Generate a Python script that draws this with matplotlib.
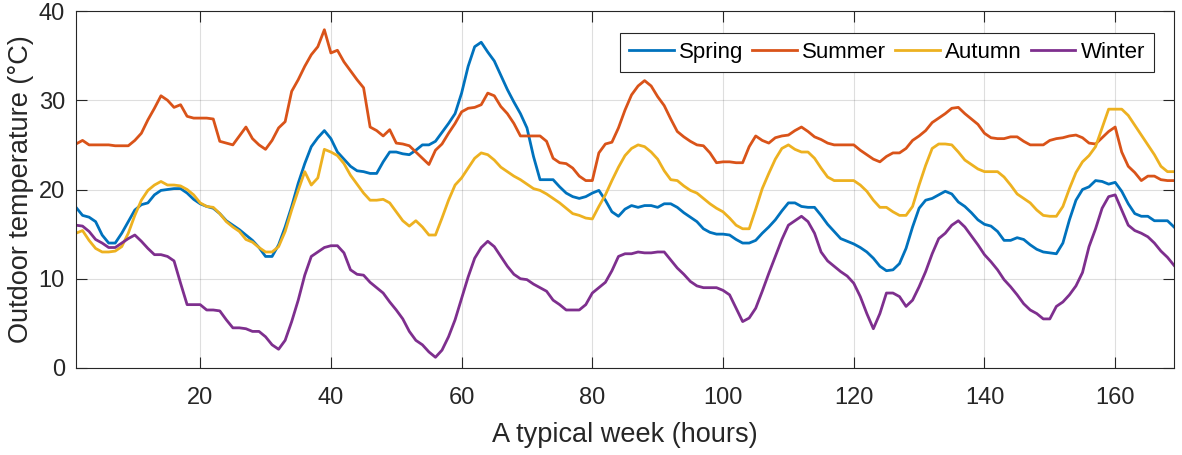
import numpy as np
import matplotlib
matplotlib.use("Agg")
import matplotlib.pyplot as plt

plt.rcParams["font.family"] = ["Liberation Sans", "DejaVu Sans"]

hours = np.arange(1, 170)

spring = [18.0, 17.1, 16.9, 16.4, 14.9, 14.0, 14.0, 15.1, 16.4, 17.7,
          18.3, 18.5, 19.4, 19.9, 20.0, 20.1, 20.1, 19.6, 18.9, 18.4,
          18.1, 17.9, 17.3, 16.5, 16.0, 15.5, 14.9, 14.3, 13.5, 12.5,
          12.5, 13.8, 15.8, 18.1, 20.7, 22.9, 24.8, 25.8, 26.6, 25.7,
          24.2, 23.4, 22.6, 22.1, 22.0, 21.8, 21.8, 23.1, 24.2, 24.2,
          24.0, 23.9, 24.4, 25.0, 25.0, 25.4, 26.4, 27.4, 28.5, 30.8,
          33.8, 36.0, 36.5, 35.4, 34.4, 32.8, 31.2, 29.8, 28.5, 26.9,
          23.7, 21.1, 21.1, 21.1, 20.3, 19.6, 19.2, 19.0, 19.2, 19.6,
          19.9, 18.8, 17.5, 17.0, 17.8, 18.2, 18.0, 18.2, 18.2, 18.0,
          18.4, 18.4, 18.0, 17.4, 16.9, 16.4, 15.6, 15.2, 15.0, 15.0,
          14.9, 14.4, 14.0, 14.0, 14.3, 15.1, 15.8, 16.6, 17.6, 18.5,
          18.5, 18.1, 18.0, 18.0, 17.1, 16.1, 15.3, 14.5, 14.2, 13.9,
          13.5, 13.0, 12.3, 11.4, 10.9, 11.0, 11.7, 13.4, 15.8, 17.9,
          18.8, 19.0, 19.4, 19.8, 19.5, 18.6, 18.1, 17.4, 16.6, 16.1,
          15.9, 15.3, 14.3, 14.3, 14.6, 14.4, 13.8, 13.3, 13.0, 12.9,
          12.8, 14.0, 16.6, 18.8, 20.0, 20.3, 21.0, 20.9, 20.6, 20.8,
          19.8, 18.4, 17.3, 17.0, 17.0, 16.5, 16.5, 16.5, 15.8]

summer = [25.1, 25.5, 25.0, 25.0, 25.0, 25.0, 24.9, 24.9, 24.9, 25.5,
          26.3, 27.8, 29.1, 30.5, 30.0, 29.2, 29.5, 28.2, 28.0, 28.0,
          28.0, 27.9, 25.4, 25.2, 25.0, 26.0, 27.0, 25.7, 25.0, 24.5,
          25.5, 26.9, 27.6, 31.0, 32.3, 33.8, 35.1, 36.0, 37.9, 35.3,
          35.6, 34.3, 33.3, 32.3, 31.4, 27.0, 26.6, 26.0, 26.7, 25.2,
          25.1, 24.9, 24.2, 23.5, 22.8, 24.4, 25.1, 26.3, 27.4, 28.7,
          29.1, 29.2, 29.5, 30.8, 30.5, 29.3, 28.5, 27.4, 26.0, 26.0,
          26.0, 26.0, 25.4, 23.5, 23.0, 22.9, 22.4, 21.5, 21.0, 21.0,
          24.1, 25.1, 25.3, 26.9, 28.9, 30.6, 31.6, 32.2, 31.6, 30.4,
          29.4, 27.9, 26.5, 25.9, 25.4, 25.0, 24.9, 24.1, 23.0, 23.1,
          23.1, 23.0, 23.0, 24.8, 26.0, 25.5, 25.2, 25.8, 26.0, 26.1,
          26.6, 27.0, 26.5, 25.9, 25.6, 25.2, 25.0, 25.0, 25.0, 25.0,
          24.4, 23.9, 23.4, 23.1, 23.7, 24.1, 24.1, 24.6, 25.5, 26.0,
          26.6, 27.5, 28.0, 28.5, 29.1, 29.2, 28.5, 27.9, 27.3, 26.3,
          25.8, 25.7, 25.7, 25.9, 25.9, 25.4, 25.0, 25.0, 25.0, 25.5,
          25.7, 25.8, 26.0, 26.1, 25.8, 25.2, 25.1, 25.8, 26.5, 27.0,
          24.2, 22.6, 21.9, 21.0, 21.5, 21.5, 21.1, 21.0, 21.0]

autumn = [15.1, 15.4, 14.3, 13.4, 13.0, 13.0, 13.1, 13.6, 15.1, 17.1,
          18.8, 19.9, 20.5, 20.9, 20.5, 20.5, 20.4, 20.0, 19.4, 18.5,
          18.1, 18.0, 17.3, 16.4, 15.8, 15.3, 14.4, 14.1, 13.5, 13.0,
          13.0, 13.6, 15.3, 17.7, 19.9, 22.0, 20.5, 21.3, 24.5, 24.2,
          23.8, 22.9, 21.6, 20.6, 19.6, 18.8, 18.8, 18.9, 18.5, 17.5,
          16.5, 15.9, 16.5, 15.8, 14.9, 14.9, 16.8, 18.8, 20.5, 21.3,
          22.4, 23.5, 24.1, 23.9, 23.3, 22.5, 22.0, 21.5, 21.1, 20.6,
          20.1, 19.9, 19.5, 19.0, 18.5, 17.9, 17.3, 17.1, 16.8, 16.7,
          18.1, 19.4, 21.0, 22.5, 23.8, 24.6, 25.0, 24.8, 24.2, 23.4,
          22.1, 21.1, 21.0, 20.4, 19.9, 19.6, 19.0, 18.4, 17.9, 17.5,
          16.8, 16.0, 15.6, 15.6, 17.8, 20.1, 21.8, 23.4, 24.6, 25.0,
          24.5, 24.2, 24.2, 23.5, 22.4, 21.4, 21.0, 21.0, 21.0, 21.0,
          20.5, 19.8, 18.8, 18.0, 18.0, 17.5, 17.1, 17.1, 18.1, 20.5,
          22.7, 24.6, 25.1, 25.1, 25.0, 24.2, 23.3, 22.8, 22.3, 22.0,
          22.0, 22.0, 21.4, 20.5, 19.5, 19.0, 18.5, 17.7, 17.1, 17.0,
          17.0, 18.1, 20.1, 21.9, 23.1, 23.8, 24.8, 26.9, 29.0, 29.0,
          29.0, 28.3, 27.2, 26.1, 25.0, 23.9, 22.6, 22.0, 22.0]

winter = [16.0, 15.9, 15.3, 14.4, 14.0, 13.5, 13.5, 14.0, 14.5, 14.9,
          14.2, 13.4, 12.7, 12.7, 12.5, 12.0, 9.5, 7.1, 7.1, 7.1,
          6.5, 6.5, 6.4, 5.4, 4.5, 4.5, 4.4, 4.1, 4.1, 3.5,
          2.6, 2.1, 3.1, 5.2, 7.6, 10.4, 12.5, 13.0, 13.5, 13.7,
          13.7, 12.9, 11.0, 10.5, 10.4, 9.6, 9.0, 8.4, 7.4, 6.5,
          5.5, 4.1, 3.1, 2.6, 1.8, 1.2, 2.0, 3.5, 5.4, 7.8,
          10.2, 12.3, 13.5, 14.2, 13.6, 12.5, 11.4, 10.5, 10.0, 9.9,
          9.4, 9.0, 8.6, 7.6, 7.1, 6.5, 6.5, 6.5, 7.1, 8.4,
          9.0, 9.6, 10.9, 12.5, 12.8, 12.8, 13.0, 12.9, 12.9, 13.0,
          13.0, 12.1, 11.2, 10.5, 9.7, 9.2, 9.0, 9.0, 9.0, 8.7,
          8.2, 6.7, 5.2, 5.6, 6.7, 8.6, 10.6, 12.5, 14.4, 16.0,
          16.5, 17.0, 16.4, 15.1, 13.0, 12.0, 11.4, 10.8, 10.3, 9.5,
          8.0, 6.1, 4.4, 6.1, 8.4, 8.4, 8.0, 6.9, 7.6, 9.1,
          10.8, 12.8, 14.5, 15.1, 16.0, 16.5, 15.8, 14.8, 13.8, 12.7,
          11.9, 11.0, 9.9, 9.1, 8.2, 7.2, 6.5, 6.1, 5.5, 5.5,
          6.9, 7.4, 8.2, 9.2, 10.7, 13.6, 15.6, 17.9, 19.2, 19.4,
          17.7, 16.0, 15.4, 15.1, 14.7, 14.0, 13.1, 12.4, 11.5]

series = [("Spring", spring, "#0072BD"),
          ("Summer", summer, "#D95319"),
          ("Autumn", autumn, "#EDB120"),
          ("Winter", winter, "#7E2F8E")]

fig = plt.figure(figsize=(11.82, 4.55), dpi=100)
ax = fig.add_axes([76 / 1182, 87 / 455, 1098 / 1182, 357 / 455])

for name, vals, col in series:
    ax.plot(hours, vals, color=col, lw=2.0, label=name)

ax.set_xlim(1, 169)
ax.set_ylim(0, 40)
ax.set_xticks(np.arange(20, 161, 20))
ax.set_yticks(np.arange(0, 41, 10))
ax.grid(True, color="#262626", alpha=0.15, lw=0.8)
ax.tick_params(direction="in", length=8, width=0.8, labelsize=17,
               top=True, right=True, colors="#262626")
ax.tick_params(axis="x", pad=14)
ax.tick_params(axis="y", pad=8)
for s in ax.spines.values():
    s.set_color("#262626")
    s.set_linewidth(0.8)

ax.set_xlabel("A typical week (hours)", fontsize=19.5, color="#262626", labelpad=9)
ax.set_ylabel("Outdoor temperature (°C)", fontsize=19.5, color="#262626", labelpad=3)

leg = ax.legend(ncol=4, loc="upper right", bbox_to_anchor=(0.982, 0.938),
                fontsize=16, frameon=True, fancybox=False, handlelength=2.0,
                handletextpad=0.25, columnspacing=0.4, borderpad=0.4,
                borderaxespad=0)
leg.get_frame().set_edgecolor("#262626")
leg.get_frame().set_linewidth(0.8)
leg.get_frame().set_alpha(1)

fig.savefig("out.png", dpi=100)
